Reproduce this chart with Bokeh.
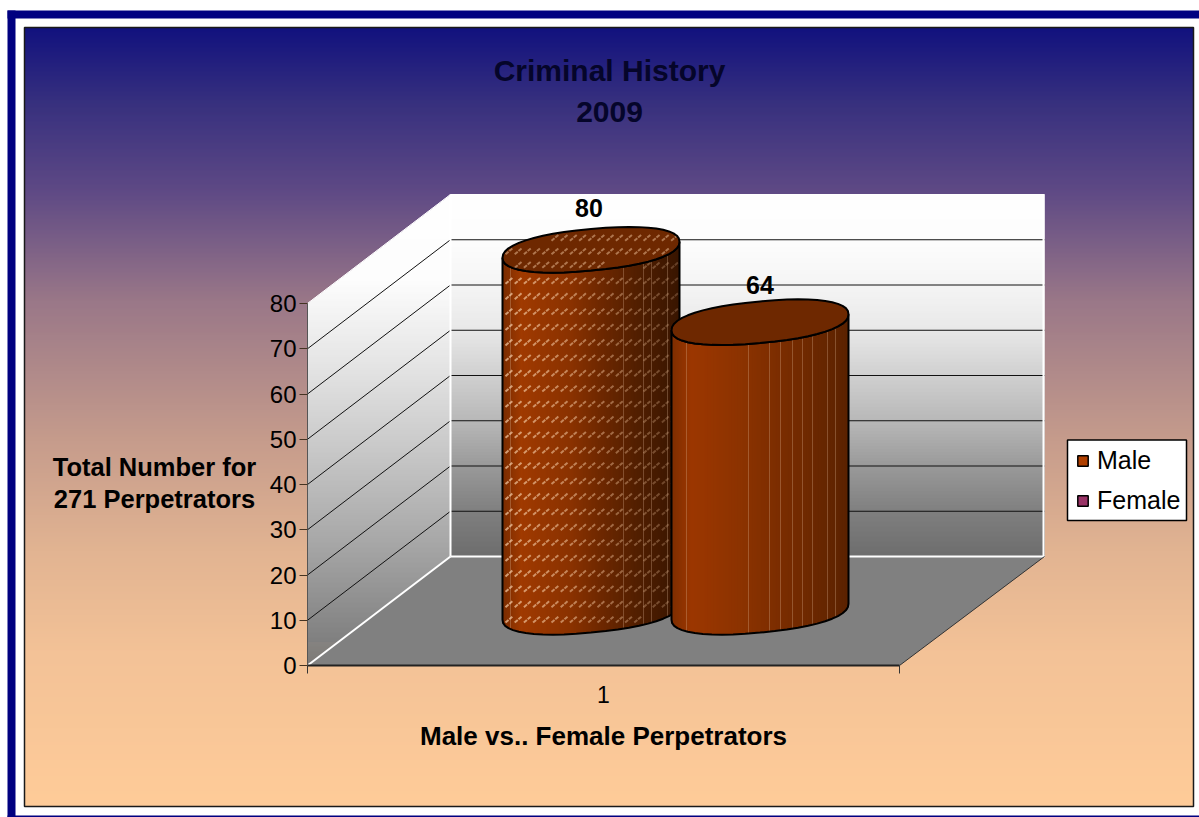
import numpy as np
from bokeh.plotting import figure
from bokeh.models import Range1d, FixedTicker, Legend, LegendItem, ColumnDataSource
from bokeh.core.properties import value
from bokeh.embed import file_html
from bokeh.resources import INLINE

# ---- data
title_lines = ["Criminal History", "2009"]
y_title_lines = ["Total Number for", "271 Perpetrators"]
x_title = "Male vs.. Female Perpetrators"
categories = ["1"]
series_names = ["Male", "Female"]
series_values = [80, 64]
series_swatch = ["#B04000", "#993366"]
y_ticks = [0, 10, 20, 30, 40, 50, 60, 70, 80]

W, H = 1199, 817
SCALE = 4.525           # pixels per unit on the value axis
Y0 = 665                # pixel row of value 0 on the front axis
FONT = value("Liberation Sans")


def yv(px):
    """pixel row -> value-axis coordinate"""
    return (Y0 - np.asarray(px, dtype=float)) / SCALE


def lerp_colors(x, stops):
    xs = [s[0] for s in stops]
    out = []
    for ch in range(3):
        out.append(np.interp(x, xs, [int(s[1][1 + 2 * ch:3 + 2 * ch], 16) for s in stops]))
    return ["#%02x%02x%02x" % (int(r), int(g), int(b)) for r, g, b in zip(*out)]


p = figure(width=W, height=H, output_backend="svg", toolbar_location=None,
           x_range=Range1d(0, W), y_range=Range1d(float(yv(H)), float(yv(0))),
           min_border=0, background_fill_color="white",
           border_fill_color="white", outline_line_color=None)
p.grid.visible = False

# ---- page border and chart area
p.quad(left=[7, 7, 7], right=[W, 15, W], top=yv([10, 10, 815]), bottom=yv([18, 817, 817]),
       fill_color="#000080", line_color=None)

bg_stops = [(27, "#12127e"), (100, "#37307f"), (190, "#5f4a85"), (300, "#9a7888"), (440, "#c69c8c"),
            (550, "#e2b492"), (650, "#f3c297"), (806, "#ffcc99")]
rows = np.arange(27, 806)
p.quad(left=24, right=1193, top=yv(rows), bottom=yv(rows + 1.4),
       fill_color=lerp_colors(rows, bg_stops), line_color=None)
p.quad(left=[24], right=[1193], top=yv([27]), bottom=yv([806]), fill_color=None,
       line_color="#1a1a1a", line_width=1.5)

# ---- 3-D box: walls and floor
WALL_L, WALL_R, FRONT_L, FRONT_R = 450, 1044, 307, 899
DEPTH = 109             # pixels the back wall's value 0 sits above the front axis
wall_bottom = Y0 - DEPTH
wall_top = wall_bottom - 80 * SCALE
back_gray = [(194, "#ffffff"), (240, "#fdfdfd"), (285, "#f5f5f5"), (330, "#e8e8e8"), (375, "#d0d0d0"),
             (420, "#b8b8b8"), (465, "#9a9a9a"), (510, "#808080"), (556, "#6e6e6e")]
side_gray = [(194, "#ffffff"), (280, "#fdfdfd"), (360, "#e6e6e6"), (450, "#c8c8c8"), (540, "#a8a8a8"),
             (600, "#909090"), (665, "#767676")]

rows = np.arange(wall_top, wall_bottom)
p.quad(left=WALL_L, right=WALL_R, top=yv(rows), bottom=yv(rows + 1.4),
       fill_color=lerp_colors(rows, back_gray), line_color=None)

rows = np.arange(wall_top, Y0)
k = (WALL_L - FRONT_L) / DEPTH
lft = np.maximum(FRONT_L, WALL_L - (rows + 0.5 - wall_top) * k)
rgt = np.minimum(WALL_L, FRONT_L + (Y0 - rows - 0.5) * k)
keep = rgt > lft
p.quad(left=lft[keep], right=rgt[keep], top=yv(rows[keep]), bottom=yv(rows[keep] + 1.4),
       fill_color=lerp_colors(rows[keep], side_gray), line_color=None)

p.patch(x=[FRONT_L, WALL_L, WALL_R, FRONT_R], y=yv([Y0, wall_bottom, wall_bottom, Y0]),
        fill_color="#808080", line_color=None)

# gridlines run from the front axis, back along the side wall, across the back wall
depth_units = DEPTH / SCALE
grid_v = [v for v in y_ticks if 0 < v < 80]
p.segment(x0=FRONT_L, x1=WALL_L, y0=grid_v, y1=[v + depth_units for v in grid_v],
          line_color="#111111", line_width=1)
p.segment(x0=WALL_L, x1=WALL_R, y0=[v + depth_units for v in grid_v], y1=[v + depth_units for v in grid_v],
          line_color="#111111", line_width=1)
p.segment(x0=[WALL_L, WALL_L, WALL_R - 1, WALL_L], x1=[WALL_L, WALL_R, WALL_R - 1, FRONT_L],
          y0=yv([wall_top, wall_bottom, wall_top, wall_bottom]), y1=yv([wall_bottom, wall_bottom, wall_bottom, Y0]),
          line_color="white", line_width=2)
p.line(x=[WALL_R, FRONT_R], y=yv([wall_bottom, Y0]), line_color="#333333", line_width=1)
p.line(x=[FRONT_L, WALL_L, WALL_R], y=yv([Y0 - 80 * SCALE, wall_top, wall_top]), line_color="white", line_width=1)

# ---- cylinders
A, S, B = 88.5, 8.0, 20.8
E = 0.88                # rounds the ends of the ellipse slightly
BASE_CY = 611.3
centers = [590.5, 759.5]
stops = [
    [(502, "#7a2c00"), (520, "#a03a00"), (570, "#8a3200"), (600, "#6e2800"), (640, "#4f1e00"), (679, "#381500")],
    [(671, "#7f2e00"), (690, "#9c3700"), (740, "#8c3300"), (800, "#722a00"), (848, "#5a2200")],
]
facets = [[510, 623, 643, 651, 667], [686, 748, 769, 780, 792, 802, 812, 827, 835]]
cap_fill = "#6e2800"
label_gap = [20, 15]


def front(x, cx, cy):
    u = np.clip((x - cx) / A, -1, 1)
    c = np.abs(u) ** (1 / E)
    return cy - S * u + B * np.clip(1 - c * c, 0, 1) ** (E / 2)


def ring(cx, cy, t):
    c, s = np.cos(t), np.sin(t)
    u = np.sign(c) * np.abs(c) ** E
    return cx + A * u, cy - S * u + B * np.sign(s) * np.abs(s) ** E


for i, (val, cx) in enumerate(zip(series_values, centers)):
    rise = val * SCALE
    cy_top = BASE_CY - rise
    xs = np.arange(cx - A, cx + A, 1.5)
    # body shading column by column
    p.quad(left=xs, right=xs + 2, top=yv(front(xs + 1, cx, cy_top)), bottom=yv(front(xs + 1, cx, BASE_CY)),
           fill_color=lerp_colors(xs, stops[i]), line_color=None)

    fx = np.array(facets[i], dtype=float)
    p.segment(x0=fx, x1=fx, y0=yv(front(fx, cx, cy_top)), y1=yv(front(fx, cx, BASE_CY)),
              line_color="#e0b898", line_width=1, line_alpha=0.3)

    if i == 0:      # the male series carries a dashed texture
        hx, hy = np.meshgrid(np.arange(cx - A + 3, cx + A - 6, 9.2), np.arange(252.5, 640, 15.4))
        hx, hy = hx.ravel(), hy.ravel()
        ok = (hy < front(hx, cx, BASE_CY) - 3) & (hy - 5 > front(hx + 6, cx, cy_top))
        hx, hy = hx[ok], hy[ok]
        alpha = np.interp(hx, [502, 679], [0.75, 0.22])
        p.segment(x0=hx, x1=hx + 7, y0=yv(hy), y1=yv(hy - 6), line_color="#f0c49c",
                  line_width=2, line_alpha=alpha, line_dash="4 1")

    t = np.linspace(np.pi, 0, 25)
    tx, ty = ring(cx, 0, t)
    px = np.concatenate([tx, tx[::-1]])
    py = np.concatenate([ty + cy_top, ty[::-1] + BASE_CY])
    p.patch(x=px, y=yv(py), fill_color=None, line_color="black", line_width=2)

    tt = np.linspace(0, 2 * np.pi, 49)
    capx, capy = ring(cx, cy_top, tt)
    p.patch(x=capx, y=yv(capy), fill_color=cap_fill, line_color=None)

    if i == 0:
        hx, hy = np.meshgrid(np.arange(cx - A + 3, cx + A - 6, 9.2), np.arange(cy_top - 9, cy_top + 20, 13.5))
        hx, hy = hx.ravel(), hy.ravel()
        c = (hx + 3 - cx) / A
        ok = np.abs(hy - 3 - (cy_top - S * c)) < (B - 4) * np.sqrt(np.clip(1 - c * c, 0, 1))
        hx, hy = hx[ok], hy[ok]
        p.segment(x0=hx, x1=hx + 7, y0=yv(hy), y1=yv(hy - 6), line_color="#f0c49c",
                  line_width=2, line_alpha=0.5, line_dash="4 1")

    p.patch(x=capx, y=yv(capy), fill_color=None, line_color="black", line_width=2)
    cap_top = cy_top - np.hypot(S, B)
    p.text(x=[cx - 2 if i == 0 else cx], y=yv([cap_top - label_gap[i]]), text=[str(val)], text_font=FONT,
           text_font_size="25px", text_font_style="bold", text_align="center", text_baseline="middle",
           text_color="black")

# ---- axes
ya = p.yaxis[0]
ya.fixed_location = FRONT_L
ya.bounds = (0, 80)
ya.ticker = FixedTicker(ticks=y_ticks)
ya.major_tick_in, ya.major_tick_out = 0, 8
ya.minor_tick_in, ya.minor_tick_out = 0, 0
ya.major_label_text_font = "Liberation Sans"
ya.major_label_text_font_size = "24px"
ya.major_label_text_color = "black"
ya.major_label_standoff = 3
ya.axis_line_color = "#555555"
ya.major_tick_line_color = "#443322"

xa = p.xaxis[0]
xa.fixed_location = 0
xa.bounds = (FRONT_L, FRONT_R)
xa.ticker = FixedTicker(ticks=[603], minor_ticks=[FRONT_L, FRONT_R])
xa.major_label_overrides = {603: categories[0]}
xa.major_tick_in, xa.major_tick_out = 0, 0
xa.minor_tick_in, xa.minor_tick_out = 0, 8
xa.minor_tick_line_color = "#333333"
xa.major_label_text_font = "Liberation Sans"
xa.major_label_text_font_size = "23px"
xa.major_label_text_color = "black"
xa.major_label_standoff = 12
xa.axis_line_color = "#222222"
xa.axis_line_width = 2

# ---- texts
p.text(x=[609, 609], y=yv([70, 111]), text=title_lines, text_font=FONT, text_font_size="30px",
       text_font_style="bold", text_align="center", text_baseline="middle", text_color="#05052a")
p.text(x=[154, 154], y=yv([466, 498]), text=y_title_lines, text_font=FONT, text_font_size="25.5px",
       text_font_style="bold", text_align="center", text_baseline="middle", text_color="black")
p.text(x=[603], y=yv([735]), text=[x_title], text_font=FONT, text_font_size="26px",
       text_font_style="bold", text_align="center", text_baseline="middle", text_color="black")

# ---- legend
p.quad(left=[1067], right=[1186], top=yv([439.5]), bottom=yv([520]), fill_color="white",
       line_color="black", line_width=1.5)
src = ColumnDataSource(dict(l=[-50], r=[-40], t=[0], b=[-1]))
items = []
for name, col in zip(series_names, series_swatch):
    r = p.quad(left="l", right="r", top="t", bottom="b", source=src, fill_color=col,
               line_color="black", line_width=1.5)
    items.append(LegendItem(label=value(name), renderers=[r]))
leg = Legend(items=items, location=(1076, H - 515), margin=0, padding=8, spacing=11, glyph_width=13, glyph_height=13,
             label_standoff=8, label_text_font="Liberation Sans", label_text_font_size="25px",
             label_text_color="black", border_line_color=None, background_fill_alpha=0)
p.add_layout(leg, "center")

open("out.html", "w").write(file_html(p, INLINE))
